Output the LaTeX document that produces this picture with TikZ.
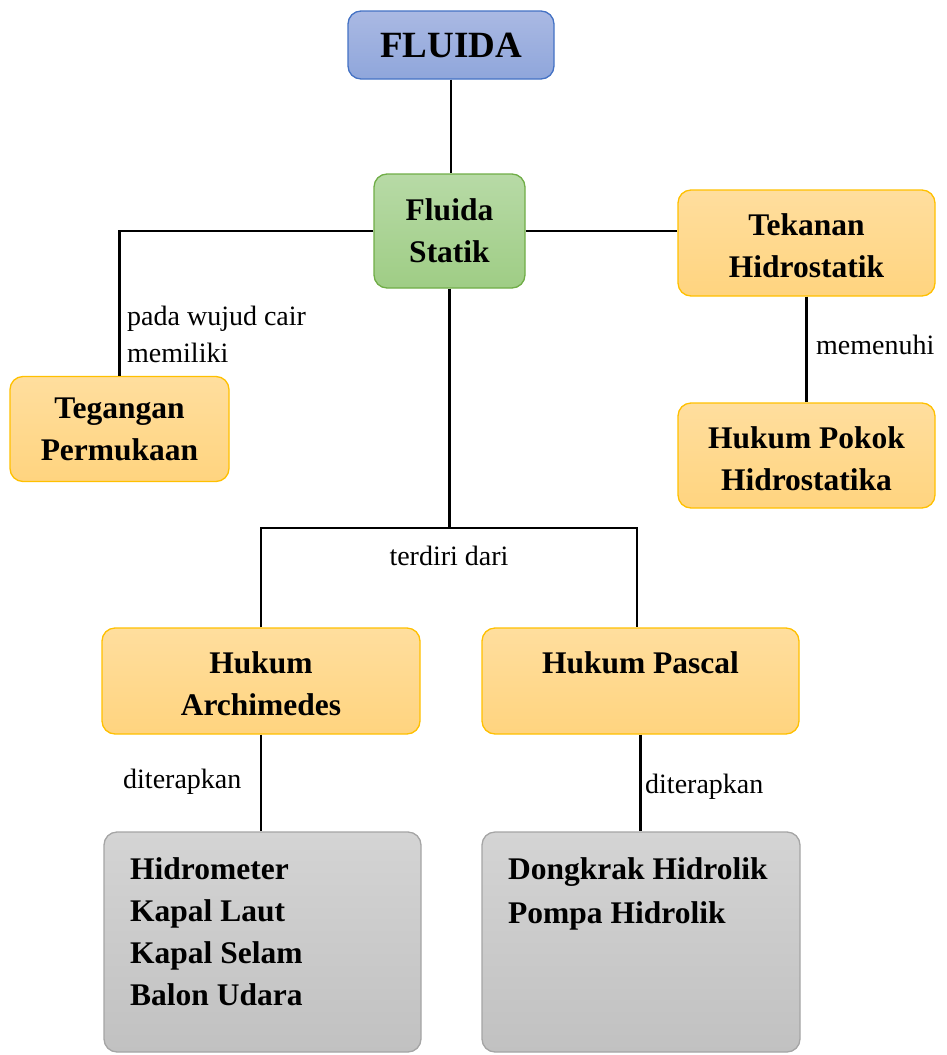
\documentclass[tikz,border=0pt]{standalone}
\usepackage{fontspec}
\setmainfont{Liberation Serif}
\usetikzlibrary{calc}
\definecolor{blueT}{HTML}{AAB9E3}
\definecolor{blueB}{HTML}{8FA6DB}
\definecolor{blueD}{HTML}{4472C4}
\definecolor{greenT}{HTML}{B7DAA6}
\definecolor{greenB}{HTML}{9FCD85}
\definecolor{greenD}{HTML}{70AD47}
\definecolor{orT}{HTML}{FFDE9E}
\definecolor{orB}{HTML}{FFD47F}
\definecolor{orD}{HTML}{FFC000}
\definecolor{grT}{HTML}{D4D4D4}
\definecolor{grB}{HTML}{C1C1C1}
\definecolor{grD}{HTML}{A5A5A5}
\begin{document}
\begin{tikzpicture}[x=1pt,y=-1pt,
  basebox/.style={rounded corners=13pt, line width=1.3pt, inner sep=0pt, align=center,
    font=\bfseries\fontsize{31.5}{42}\selectfont},
  bluebox/.style={basebox, draw=blueD, top color=blueT, bottom color=blueB},
  greenbox/.style={basebox, draw=greenD, top color=greenT, bottom color=greenB},
  orbox/.style={basebox, draw=orD, top color=orT, bottom color=orB},
  graybox/.style={basebox, draw=grD, top color=grT, bottom color=grB},
  boxtext/.style={inner sep=0pt, font=\bfseries\fontsize{31.5}{42}\selectfont},
  lbl/.style={inner sep=0pt, font=\fontsize{28}{37}\selectfont},
  conn/.style={line width=2.4pt, black}]
\useasboundingbox (0,0) rectangle (946,1055);

\node[bluebox, minimum width=206pt, minimum height=68pt, font=\bfseries\fontsize{37}{42}\selectfont] (fluida) at (451,45) {FLUIDA};
\node[greenbox, minimum width=151pt, minimum height=114pt] (statik) at (449.5,231) {Fluida\\Statik};
\node[orbox, minimum width=219pt, minimum height=105pt] (teg) at (119.5,429) {Tegangan\\Permukaan};
\node[orbox, minimum width=257pt, minimum height=106pt] (tek) at (806.5,243) {};
\node[boxtext, align=center] (tektxt) at (806.5,246) {Tekanan\\Hidrostatik};
\node[orbox, minimum width=257pt, minimum height=105pt] (pokok) at (806.5,455.5) {};
\node[boxtext, align=center] (poktxt) at (806.5,459) {Hukum Pokok\\Hidrostatika};
\node[orbox, minimum width=318pt, minimum height=106pt] (arch) at (261,681) {};
\node[boxtext, align=center] (archtxt) at (261,684) {Hukum\\Archimedes};
\node[orbox, minimum width=317pt, minimum height=106pt] (pascal) at (640.5,681) {};
\node[boxtext] (pascaltxt) at (640.5,663) {Hukum Pascal};
\node[graybox, minimum width=317pt, minimum height=220pt] (gray1) at (262.5,942) {};
\node[graybox, minimum width=318pt, minimum height=220pt] (gray2) at (641,942) {};
\node[boxtext, anchor=north west, align=left] (g1txt) at (130,857) {Hidrometer\\Kapal Laut\\Kapal Selam\\Balon Udara};
\node[boxtext, anchor=north west, align=left] (g2txt) at (508,857) {Dongkrak Hidrolik\\[2pt]Pompa Hidrolik};

\coordinate (j) at (449.5,528);
\coordinate (jr) at (637,528);
\draw[conn] (fluida.south) -- (fluida.south |- statik.north);
\draw[conn] (statik.west) -| (teg.north);
\draw[conn] (statik.east) -- (statik.east -| tek.west);
\draw[conn] (tek.south) -- (pokok.north);
\draw[conn] (statik.south) -- (j);
\draw[conn] (arch.north) |- (jr) -- (jr |- pascal.north);
\draw[conn] (arch.south) -- (arch.south |- gray1.north);
\draw[conn] (pascal.south) -- (pascal.south |- gray2.north);

\node[lbl, anchor=west, align=left] (l1) at (127,334.5) {pada wujud cair\\memiliki};
\node[lbl, anchor=west] (l2) at (816,345) {memenuhi};
\node[lbl] (l3) at (449,556) {terdiri dari};
\node[lbl, anchor=west] (l4) at (123,782) {diterapkan};
\node[lbl, anchor=west] (l5) at (645,787) {diterapkan};
\end{tikzpicture}
\end{document}
